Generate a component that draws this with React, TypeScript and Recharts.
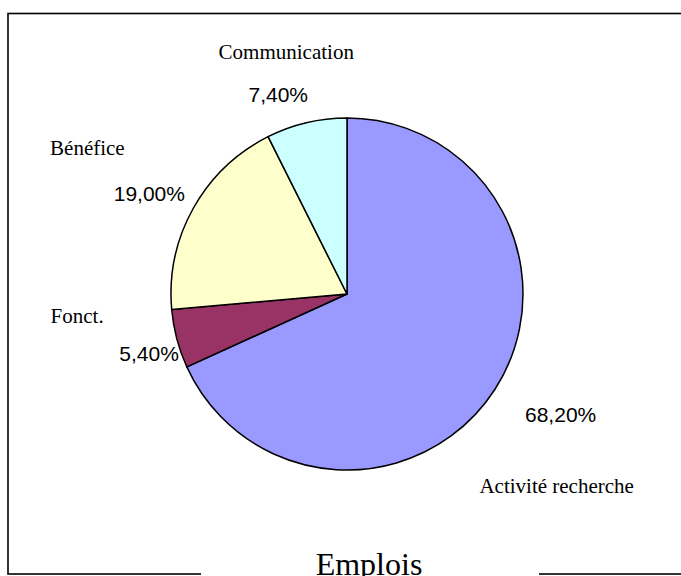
import React from "react";
import { PieChart, Pie, Cell } from "recharts";

const categories = ["Activité recherche", "Fonct.", "Bénéfice", "Communication"];
const shares = [68.2, 5.4, 19.0, 7.4];
const colors = ["#9999FF", "#993366", "#FFFFCC", "#CCFFFF"];
const title = "Emplois";

const data = categories.map((name, i) => ({ name, value: shares[i] }));

// label placement offsets (relative to a point just outside the slice middle)
const pctOffset: [number, number][] = [
  [32, 6],
  [11, 6],
  [-9, 7],
  [-19, 13],
];
const nameOffset: [number, number][] = [
  [28, 77],
  [-61, -31],
  [-71, -39],
  [-11, -30],
];

const RAD = Math.PI / 180;

const renderLabel = (props: any) => {
  const { cx, cy, midAngle, outerRadius, index, value, name } = props;
  const r = outerRadius + 40;
  const ax = cx + r * Math.cos(-midAngle * RAD);
  const ay = cy + r * Math.sin(-midAngle * RAD);
  const [pdx, pdy] = pctOffset[index];
  const [ndx, ndy] = nameOffset[index];
  const pct = Number(value).toFixed(2).replace(".", ",") + "%";
  return (
    <g>
      <text
        x={ax + pdx}
        y={ay + pdy}
        textAnchor="middle"
        dominantBaseline="middle"
        fontFamily="'Liberation Sans', Arial, sans-serif"
        fontSize={21}
        fill="#000"
      >
        {pct}
      </text>
      <text
        x={ax + ndx}
        y={ay + ndy}
        textAnchor="middle"
        dominantBaseline="middle"
        fontFamily="'Liberation Serif', 'Times New Roman', serif"
        fontSize={21}
        fill="#000"
      >
        {name}
      </text>
    </g>
  );
};

export default function App() {
  return (
    <div style={{ position: "absolute", left: 0, top: 0, width: 681, height: 576, background: "#fff", overflow: "hidden" }}>
      <svg width={681} height={576} style={{ position: "absolute", left: 0, top: 0 }}>
        <rect x={8} y={13.5} width={700} height={560.5} fill="none" stroke="#000" strokeWidth={1.6} />
        <rect x={201} y={560} width={338} height={16} fill="#fff" />
        <text
          x={369}
          y={575}
          textAnchor="middle"
          fontFamily="'Liberation Serif', 'Times New Roman', serif"
          fontSize={32}
          fill="#000"
        >
          {title}
        </text>
      </svg>
      <div style={{ position: "absolute", left: 0, top: 0 }}>
        <PieChart width={681} height={560} margin={{ top: 0, right: 0, bottom: 0, left: 0 }}>
          <Pie
            data={data}
            dataKey="value"
            nameKey="name"
            cx={347}
            cy={294}
            outerRadius={176}
            startAngle={90}
            endAngle={-270}
            stroke="#000"
            strokeWidth={1.5}
            label={renderLabel}
            labelLine={false}
            isAnimationActive={false}
          >
            {data.map((d, i) => (
              <Cell key={d.name} fill={colors[i]} />
            ))}
          </Pie>
        </PieChart>
      </div>
    </div>
  );
}
